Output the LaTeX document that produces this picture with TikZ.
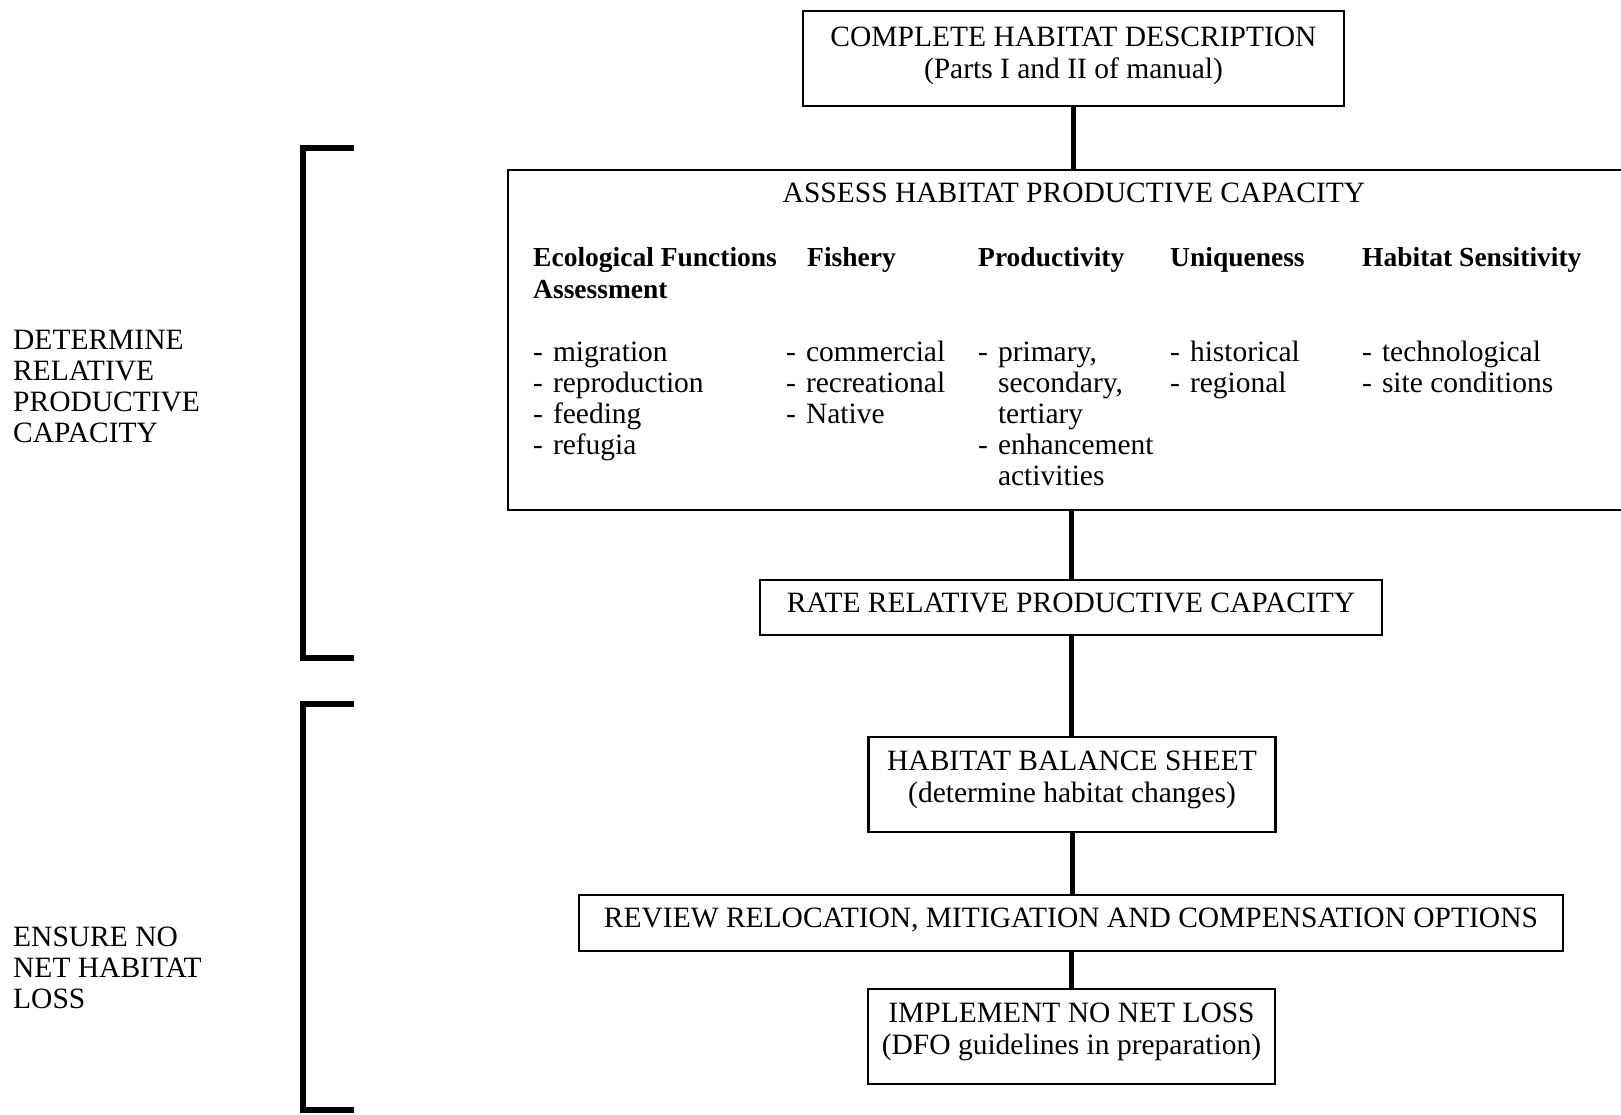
\documentclass[tikz,border=0pt]{standalone}
\usepackage{fontspec}
\setmainfont{Liberation Serif}
\newcommand\fsreg{\fontsize{29.5}{32}\selectfont}
\newcommand\fshead{\fontsize{27.5}{32}\selectfont\bfseries}
\newcommand\stack[1]{\begin{tabular}[t]{@{}l@{}}#1\end{tabular}}
\newcommand\dsh{-\hspace{10pt}}
\newcommand\ind{\phantom{\dsh}}
\begin{document}
\begin{tikzpicture}[x=1pt,y=-1pt,
  box/.style={draw, line width=2.2pt, inner sep=0pt, align=center, font=\fsreg},
  conn/.style={line width=5pt},
  brk/.style={line width=6pt, line join=miter},
  head/.style={anchor=base west, inner sep=0pt, font=\fshead},
  item/.style={anchor=base west, inner sep=0pt, font=\fontsize{29.5}{31}\selectfont},
  side/.style={anchor=base west, inner sep=0pt, font=\fontsize{29.5}{31}\selectfont}]
\useasboundingbox (0,0) rectangle (1621,1114);
\clip (0,0) rectangle (1621,1114);

% boxes
\node[box, minimum width=541pt, minimum height=95pt, text depth=12.5pt] (top) at (1073.5,58.5)
  {COMPLETE HABITAT DESCRIPTION\\(Parts I and II of manual)};
\node[box, minimum width=1140pt, minimum height=340pt] (assess) at (1078,340) {};
\node[anchor=base, inner sep=0pt, font=\fsreg] (assesst) at (1074,202)
  {ASSESS HABITAT PRODUCTIVE CAPACITY};

\node[head] (h1) at (533,266) {\stack{Ecological Functions\\Assessment}};
\node[head] (h2) at (807,266) {Fishery};
\node[head] (h3) at (978,266) {Productivity};
\node[head] (h4) at (1170,266) {Uniqueness};
\node[head] (h5) at (1362,266) {Habitat Sensitivity};

\node[item] (i1) at (533,361) {\stack{\dsh migration\\\dsh reproduction\\\dsh feeding\\\dsh refugia}};
\node[item] (i2) at (786,361) {\stack{\dsh commercial\\\dsh recreational\\\dsh Native}};
\node[item] (i3) at (978,361) {\stack{\dsh primary,\\\ind secondary,\\\ind tertiary\\\dsh enhancement\\\ind activities}};
\node[item] (i4) at (1170,361) {\stack{\dsh historical\\\dsh regional}};
\node[item] (i5) at (1362,361) {\stack{\dsh technological\\\dsh site conditions}};

\node[box, minimum width=622pt, minimum height=55pt, text depth=10pt] (rate) at (1071,607.5)
  {RATE RELATIVE PRODUCTIVE CAPACITY};
\node[box, minimum width=407pt, minimum height=95pt, text depth=15.5pt] (bal) at (1072,784.5)
  {HABITAT BALANCE SHEET\\(determine habitat changes)};
\node[box, minimum width=984pt, minimum height=56pt, text depth=10pt] (rev) at (1071,923)
  {REVIEW RELOCATION, MITIGATION AND COMPENSATION OPTIONS};
\node[box, minimum width=407pt, minimum height=95pt, text depth=15.5pt] (impl) at (1071.5,1036.5)
  {IMPLEMENT NO NET LOSS\\(DFO guidelines in preparation)};

% connectors
\draw[conn] (top.south) -- (top.south |- assess.north);
\draw[conn] (rate.north |- assess.south) -- (rate.north);
\draw[conn] (rate.south) -- (rate.south |- bal.north);
\draw[conn] (bal.south) -- (bal.south |- rev.north);
\draw[conn] (rev.south) -- (rev.south |- impl.north);

% side brackets and labels
\draw[brk] (354,148) -- (303,148) -- (303,658) -- (354,658);
\draw[brk] (354,704) -- (303,704) -- (303,1110) -- (354,1110);
\node[side] (l1) at (13,349)
  {\stack{DETERMINE\\RELATIVE\\PRODUCTIVE\\CAPACITY}};
\node[side] (l2) at (13,946)
  {\stack{ENSURE NO\\NET HABITAT\\LOSS}};
\end{tikzpicture}
\end{document}
